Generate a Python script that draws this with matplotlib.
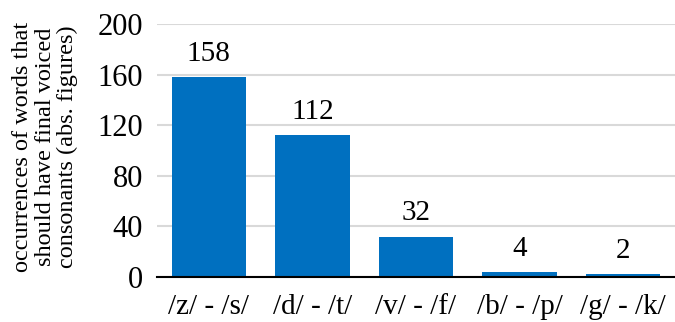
import matplotlib
matplotlib.use("Agg")
import matplotlib.pyplot as plt

# data
categories = ["/z/ - /s/", "/d/ - /t/", "/v/ - /f/", "/b/ - /p/", "/g/ - /k/"]
counts = [158, 112, 32, 4, 2]
yticks = [0, 40, 80, 120, 160, 200]

plt.rcParams["font.family"] = ["Liberation Serif", "DejaVu Serif"]

fig = plt.figure(figsize=(6.75, 3.22), dpi=100)
ax = fig.add_axes([0.2326, 0.1398, 0.7674, 0.7857])

x = range(len(categories))
bars = ax.bar(x, counts, width=0.72, color="#0070C0", zorder=3)
for xi, v in zip(x, counts):
    ax.text(xi, v + 8, str(v), ha="center", va="bottom", fontsize=21)

ax.set_xlim(-0.5, len(categories) - 0.5)
ax.set_ylim(0, 200)
ax.set_yticks(yticks)
ax.set_xticks(list(x))
ax.set_xticklabels(categories, fontsize=21)
ax.tick_params(axis="y", labelsize=22, length=0, pad=10)
ax.tick_params(axis="x", length=0, pad=12)
ax.grid(axis="y", color="#D9D9D9", linewidth=1.5, zorder=0)
for s in ["top", "right", "left"]:
    ax.spines[s].set_visible(False)
ax.spines["bottom"].set_linewidth(1.5)
ax.spines["bottom"].set_zorder(4)

fig.text(0.067, 0.543, "occurrences of words that\nshould have final voiced\nconsonants (abs. figures)",
         rotation=90, ha="center", va="center", fontsize=17.5, multialignment="center",
         linespacing=1.08)

fig.savefig("out.png", dpi=100)
